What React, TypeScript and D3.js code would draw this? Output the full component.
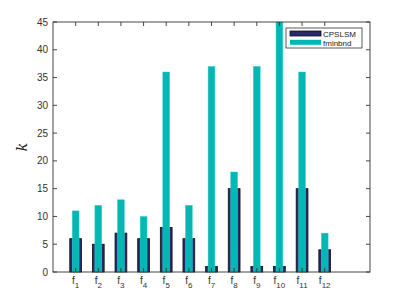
import * as d3 from "d3";

const categories = ["1", "2", "3", "4", "5", "6", "7", "8", "9", "10", "11", "12"];
const cpslsm = [6, 5, 7, 6, 8, 6, 1, 15, 1, 1, 15, 4];
const fminbnd = [11, 12, 13, 10, 36, 12, 37, 18, 37, 45, 36, 7];
const yTicks = [0, 5, 10, 15, 20, 25, 30, 35, 40, 45];
const seriesNames = ["CPSLSM", "fminbnd"];

const W = 409;
const H = 306;
const mg = { l: 53, r: 39, t: 22, b: 34 };
const FONT = "'Liberation Sans', Arial, sans-serif";
const DARK = "#272a6a";
const CYAN = "#04b6b4";

export default function App() {
  const x = d3.scaleLinear().domain([0, 14]).range([mg.l, W - mg.r]);
  const y = d3.scaleLinear().domain([0, 45]).range([H - mg.b, mg.t]);
  const step = x(1) - x(0);
  const wDark = step * 0.52;
  const wCyan = step * 0.3;
  const tk = 4;

  return (
    <svg width={W} height={H} style={{ position: "absolute", left: 0, top: 0, background: "#fff" }}>
      <rect x={0} y={0} width={W} height={H} fill="#fff" />
      {cpslsm.map((v, i) => (
        <rect key={"d" + i} x={x(i + 1) - wDark / 2} y={y(v)} width={wDark} height={y(0) - y(v)}
          fill={DARK} stroke="#111" strokeWidth={0.8} />
      ))}
      {fminbnd.map((v, i) => (
        <rect key={"c" + i} x={x(i + 1) - wCyan / 2} y={y(v)} width={wCyan} height={y(0) - y(v)}
          fill={CYAN} stroke="#3fcfcc" strokeWidth={0.5} />
      ))}
      {/* box */}
      <rect x={x(0)} y={y(45)} width={x(14) - x(0)} height={y(0) - y(45)} fill="none" stroke="#333" strokeWidth={0.9} />
      {yTicks.map((t) => (
        <g key={"y" + t}>
          <line x1={x(0)} x2={x(0) + tk} y1={y(t)} y2={y(t)} stroke="#333" strokeWidth={0.9} />
          <line x1={x(14)} x2={x(14) - tk} y1={y(t)} y2={y(t)} stroke="#333" strokeWidth={0.9} />
          <text x={x(0) - 5} y={y(t) + 3.5} textAnchor="end" fontSize={10} fontFamily={FONT} fill="#333">{t}</text>
        </g>
      ))}
      {categories.map((c, i) => (
        <g key={"x" + c}>
          <line x1={x(i + 1)} x2={x(i + 1)} y1={y(45)} y2={y(45) + tk} stroke="#333" strokeWidth={0.9} />
          <line x1={x(i + 1)} x2={x(i + 1)} y1={y(0)} y2={y(0) - tk} stroke="#333" strokeWidth={0.9} />
          <text x={x(i + 1)} y={y(0) + 12} textAnchor="middle" fontSize={10} fontFamily={FONT} fill="#333">
            f<tspan dy={3.5} fontSize={8}>{c}</tspan>
          </text>
        </g>
      ))}
      <text transform={`translate(27,${(y(0) + y(45)) / 2}) rotate(-90)`} textAnchor="middle"
        fontSize={14} fontStyle="italic" fontFamily="'DejaVu Serif', serif" fill="#222">k</text>
      {/* legend */}
      <g>
        <rect x={286} y={28} width={76} height={20} fill="#fff" stroke="#333" strokeWidth={0.8} />
        {seriesNames.map((s, i) => (
          <g key={s}>
            <rect x={290} y={31 + i * 8.8} width={31} height={5} fill={i === 0 ? DARK : CYAN}
              stroke={i === 0 ? "#111" : "none"} strokeWidth={0.8} />
            <text x={323} y={36.8 + i * 8.8} fontSize={8} fontFamily={FONT} fill="#222">{s}</text>
          </g>
        ))}
      </g>
    </svg>
  );
}
